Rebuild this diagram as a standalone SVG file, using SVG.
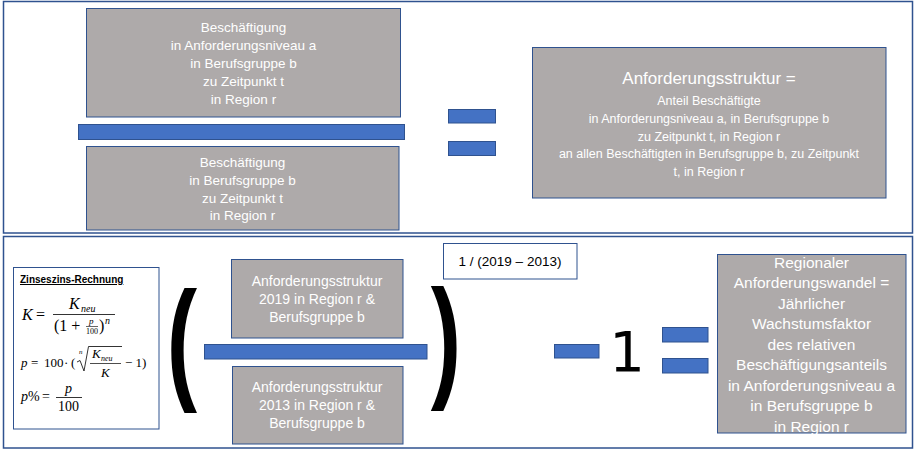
<svg xmlns="http://www.w3.org/2000/svg" width="915" height="453" viewBox="0 0 915 453">
<style>
.frame{fill:#fff;stroke:#2F528F;stroke-width:1.5}
.box{fill:#AEAAAA;stroke:#2F528F;stroke-width:1}
.bar{fill:#4472C4;stroke:#2F528F;stroke-width:1}
.wt{fill:#fff;font-family:"Liberation Sans",Arial,sans-serif;text-anchor:middle}
.bk{fill:#000;font-family:"Liberation Sans",Arial,sans-serif}
.m{fill:#000;font-family:"Liberation Serif","DejaVu Serif",serif}
.i{font-style:italic}
.par{fill:#000;font-family:"Liberation Sans",Arial,sans-serif;font-weight:bold;font-size:134px;text-anchor:middle}
</style>
<rect width="915" height="453" fill="#fff"/>
<g id="frame-top"><rect class="frame" x="3.5" y="1.5" width="909" height="231.5"/></g>
<g id="frame-bottom"><rect class="frame" x="3.5" y="236.5" width="909" height="211.5"/></g>

<g id="numerator-top">
<rect class="box" x="86.5" y="8.5" width="314" height="108.5"/>
<text class="wt" font-size="13.5" x="243.5"><tspan x="243.5" y="32">Beschäftigung</tspan><tspan x="243.5" y="50">in Anforderungsniveau a</tspan><tspan x="243.5" y="68">in Berufsgruppe b</tspan><tspan x="243.5" y="86">zu Zeitpunkt t</tspan><tspan x="243.5" y="104">in Region r</tspan></text>
</g>
<g id="fraction-bar-top"><rect class="bar" x="78.5" y="124.5" width="326" height="15"/></g>
<g id="denominator-top">
<rect class="box" x="86.5" y="146.5" width="312.5" height="83.5"/>
<text class="wt" font-size="13.5"><tspan x="242.5" y="167">Beschäftigung</tspan><tspan x="242.5" y="185">in Berufsgruppe b</tspan><tspan x="242.5" y="203">zu Zeitpunkt t</tspan><tspan x="242.5" y="220">in Region r</tspan></text>
</g>
<g id="equals-top">
<rect class="bar" x="448.5" y="109.5" width="47" height="13.5"/>
<rect class="bar" x="448.5" y="141.5" width="47" height="14"/>
</g>
<g id="result-top">
<rect class="box" x="532.5" y="47.5" width="353.5" height="150.5"/>
<text class="wt" font-size="17" x="709" y="84">Anforderungsstruktur =</text>
<text class="wt" font-size="12.5"><tspan x="709" y="104.5">Anteil Beschäftigte</tspan><tspan x="709" y="122.5">in Anforderungsniveau a, in Berufsgruppe b</tspan><tspan x="709" y="140.5">zu Zeitpunkt t, in Region r</tspan><tspan x="709" y="157.5">an allen Beschäftigten in Berufsgruppe b, zu Zeitpunkt</tspan><tspan x="709" y="175.5">t, in Region r</tspan></text>
</g>

<g id="zinseszins">
<rect x="13.5" y="267.5" width="145.5" height="161.5" fill="#fff" stroke="#2F528F" stroke-width="1"/>
<text class="bk" font-size="10" font-weight="bold" x="20" y="283" text-decoration="underline">Zinseszins-Rechnung</text>
<text class="m i" font-size="16" x="22" y="320">K</text>
<text class="m" font-size="16" x="36" y="320">=</text>
<line x1="53" y1="314.5" x2="115" y2="314.5" stroke="#000" stroke-width="0.8"/>
<text class="m i" font-size="16" x="69" y="309">K</text>
<text class="m i" font-size="10" x="81" y="312">neu</text>
<text class="m" font-size="16" x="54" y="331">(1 +</text>
<text class="m i" font-size="9" x="89" y="324">p</text>
<line x1="86" y1="326.5" x2="98" y2="326.5" stroke="#000" stroke-width="0.6"/>
<text class="m" font-size="8" x="86" y="333.5">100</text>
<text class="m" font-size="16" x="99" y="331">)</text>
<text class="m i" font-size="10" x="105" y="324">n</text>
<text class="m i" font-size="13" x="21" y="367">p</text>
<text class="m" font-size="13" x="31" y="367">=</text>
<text class="m" font-size="13" x="44" y="367">100</text>
<text class="m" font-size="13" x="64" y="367">·</text>
<text class="m" font-size="13" x="71" y="367">(</text>
<text class="m i" font-size="7" x="79" y="354">n</text>
<path d="M77,362 L80,360.5 L84,371 L88.5,346.5 L122,346.5" fill="none" stroke="#000" stroke-width="0.8"/>
<text class="m i" font-size="13" x="92" y="358">K</text>
<text class="m i" font-size="8" x="101" y="361">neu</text>
<line x1="90" y1="363.5" x2="121" y2="363.5" stroke="#000" stroke-width="0.7"/>
<text class="m i" font-size="13" x="101" y="377">K</text>
<text class="m" font-size="13" x="125" y="367">− 1)</text>
<text class="m i" font-size="14" x="21" y="401">p</text>
<text class="m" font-size="14" x="28" y="401">%</text>
<text class="m" font-size="14" x="42" y="401">=</text>
<line x1="56" y1="397.5" x2="82" y2="397.5" stroke="#000" stroke-width="0.8"/>
<text class="m i" font-size="14" x="65" y="393">p</text>
<text class="m" font-size="14" x="58" y="411">100</text>
</g>

<g id="paren-left"><text class="par" transform="translate(182,384.5) scale(0.68,1)">(</text></g>
<g id="numerator-bottom">
<rect class="box" x="231.5" y="259.5" width="171.5" height="78.5"/>
<text class="wt" font-size="14"><tspan x="317" y="286">Anforderungsstruktur</tspan><tspan x="317" y="304">2019 in Region r &amp;</tspan><tspan x="317" y="322">Berufsgruppe b</tspan></text>
</g>
<g id="fraction-bar-bottom"><rect class="bar" x="204.5" y="344.5" width="222.5" height="14.5"/></g>
<g id="denominator-bottom">
<rect class="box" x="232.5" y="366.5" width="170.5" height="77.5"/>
<text class="wt" font-size="14"><tspan x="317" y="392">Anforderungsstruktur</tspan><tspan x="317" y="410">2013 in Region r &amp;</tspan><tspan x="317" y="428">Berufsgruppe b</tspan></text>
</g>
<g id="paren-right"><text class="par" transform="translate(446,382.5) scale(0.68,1)">)</text></g>
<g id="exponent">
<rect x="443.5" y="243.5" width="133.5" height="35.5" fill="#fff" stroke="#2F528F" stroke-width="1"/>
<text class="bk" font-size="13.5" x="510" y="266" text-anchor="middle">1 / (2019 – 2013)</text>
</g>
<g id="minus-one">
<rect class="bar" x="554.5" y="344.5" width="44.5" height="13.5"/>
<text font-family="DejaVu Sans,sans-serif" font-size="56" x="627" y="371" text-anchor="middle" fill="#000">1</text>
</g>
<g id="equals-bottom">
<rect class="bar" x="662.5" y="327.5" width="45.5" height="14.5"/>
<rect class="bar" x="662.5" y="358.5" width="45.5" height="14.5"/>
</g>
<g id="result-bottom">
<rect class="box" x="717.5" y="254.5" width="188.5" height="178.5"/>
<text class="wt" font-size="15.5"><tspan x="811.5" y="267.5">Regionaler</tspan><tspan x="811.5" y="288">Anforderungswandel =</tspan><tspan x="811.5" y="308.5">Jährlicher</tspan><tspan x="811.5" y="329">Wachstumsfaktor</tspan><tspan x="811.5" y="349.5">des relativen</tspan><tspan x="811.5" y="370">Beschäftigungsanteils</tspan><tspan x="811.5" y="390.5">in Anforderungsniveau a</tspan><tspan x="811.5" y="411">in Berufsgruppe b</tspan><tspan x="811.5" y="431.5">in Region r</tspan></text>
</g>
</svg>
